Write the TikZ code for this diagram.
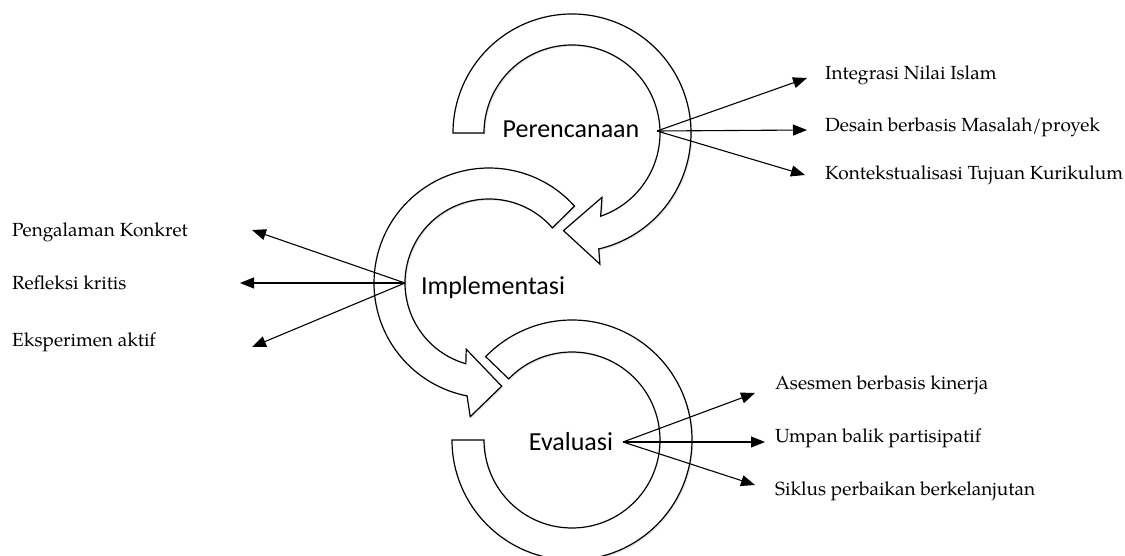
\documentclass[tikz,border=0pt]{standalone}
\usepackage{fontspec}
\setmainfont{TeX Gyre Pagella}
\newfontfamily\calib{Carlito}
\usetikzlibrary{arrows.meta,shadows,calc}
\begin{document}
\begin{tikzpicture}[x=1pt,y=1pt,
  band/.style={draw=black,line width=1.2pt,fill=white,line join=miter,
    drop shadow={opacity=0.18,shadow xshift=1.5pt,shadow yshift=-1.5pt}},
  stage/.style={font=\calib\fontsize{26}{30}\selectfont,inner sep=0pt,anchor=base},
  item/.style={font=\fontsize{19}{23}\selectfont,inner sep=0pt,anchor=base west},
  link/.style={line width=1.1pt,-{Triangle[length=14pt,width=11pt]}}]
\useasboundingbox (0,0) rectangle (1125,555);
% centres
\coordinate (C1) at (572,422);
\coordinate (C2) at (489,272);
\coordinate (C3) at (572,115);
% bottom arc (Evaluasi)
\draw[band] ($(C3)+(180:120)$) arc[start angle=180,end angle=496,radius=120]
  -- ($(C3)+(136:88)$) arc[start angle=136,end angle=-180,radius=88] -- cycle;
% middle arc (Implementasi)
\draw[band] ($(C2)+(42:115)$) arc[start angle=42,end angle=259,radius=115]
  -- ($(C2)+(262:135)$) -- ($(C2)+(277:104)$) -- ($(C2)+(251:70)$)
  -- ($(C2)+(254:84)$) arc[start angle=254,end angle=41,radius=84] -- cycle;
% top arc (Perencanaan)
\draw[band] ($(C1)+(180:119)$) arc[start angle=180,end angle=-77,radius=119]
  -- ($(C1)+(-78:134)$) -- ($(C1)+(-95:98)$) -- ($(C1)+(-65:71)$)
  -- ($(C1)+(-71:88)$) arc[start angle=-71,end angle=180,radius=88] -- cycle;
% stage labels
\node[stage] (per) at (571,417) {Perencanaan};
\node[stage] (imp) at (493,260) {Implementasi};
\node[stage] (eva) at (571,105) {Evaluasi};
% origins
\coordinate (P0) at (657,424);
\coordinate (I0) at (405,272);
\coordinate (E0) at (623,113);
% item labels
\node[item] (p1) at (825,475) {Integrasi Nilai Islam};
\node[item] (p2) at (825,423) {Desain berbasis Masalah/proyek};
\node[item] (p3) at (825,375) {Kontekstualisasi Tujuan Kurikulum};
\node[item] (i1) at (12,318) {Pengalaman Konkret};
\node[item] (i2) at (12,265) {Refleksi kritis};
\node[item] (i3) at (12,208) {Eksperimen aktif};
\node[item] (e1) at (775,165) {Asesmen berbasis kinerja};
\node[item] (e2) at (775,113) {Umpan balik partisipatif};
\node[item] (e3) at (775,60) {Siklus perbaikan berkelanjutan};
% arrow tips
\coordinate (tp1) at (807,477);
\coordinate (tp2) at (807,425);
\coordinate (tp3) at (805,380);
\coordinate (ti1) at (252,325);
\coordinate (ti2) at (240,272);
\coordinate (ti3) at (252,208);
\coordinate (te1) at (755,162);
\coordinate (te2) at (765,113);
\coordinate (te3) at (755,70);
\foreach \t in {tp1,tp2,tp3} \draw[link] (P0) -- (\t);
\foreach \t in {ti1,ti2,ti3} \draw[link] (I0) -- (\t);
\foreach \t in {te1,te2,te3} \draw[link] (E0) -- (\t);
\end{tikzpicture}
\end{document}
